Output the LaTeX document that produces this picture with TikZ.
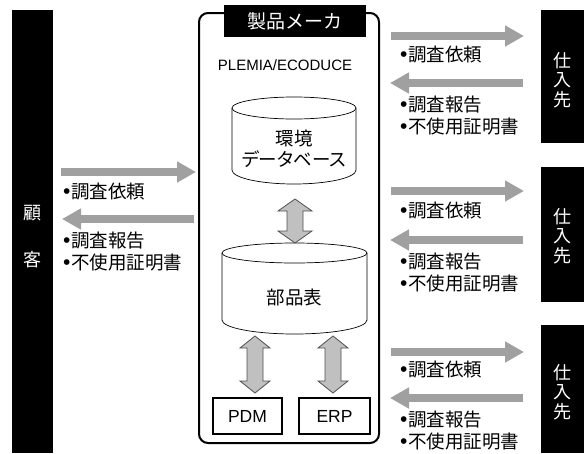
\documentclass[tikz,border=0pt]{standalone}
\usepackage{fontspec}
\setmainfont{Liberation Sans}
\newfontfamily\jp{Noto Sans CJK JP}
\newfontfamily\jpp[RawFeature=+palt]{Noto Sans CJK JP}
\usetikzlibrary{arrows.meta}
\definecolor{flowgray}{HTML}{A0A0A0}
\definecolor{dblfill}{HTML}{C0C0C0}
\definecolor{dblline}{HTML}{505050}
\newcommand\blt{{\rmfamily\fontsize{21}{22}\selectfont •}\kern0.5pt}
\newcommand\DblArrow[6]{% x, ytop, ybot, half head, half shaft, head length
  \filldraw[dblarrow] (#1,#2) -- ({#1+#4},{#2+#6}) -- ({#1+#5},{#2+#6}) -- ({#1+#5},{#3-#6})
   -- ({#1+#4},{#3-#6}) -- (#1,#3) -- ({#1-#4},{#3-#6}) -- ({#1-#5},{#3-#6})
   -- ({#1-#5},{#2+#6}) -- ({#1-#4},{#2+#6}) -- cycle;}
\begin{document}
\begin{tikzpicture}[x=1pt,y=-1pt,
  blackbox/.style={fill=black,draw=none},
  jlab/.style={font=\jp\fontsize{18.5}{22}\selectfont,inner sep=0pt,anchor=west,align=left},
  wlab/.style={font=\jp\fontsize{18}{19.5}\selectfont,text=white,inner sep=0pt,align=center},
  ctext/.style={font=\jpp\fontsize{18.5}{21}\selectfont,inner sep=0pt,align=center},
  flow/.style={draw=flowgray,line width=8.5pt,-{Triangle[length=19pt,width=20pt]}},
  dblarrow/.style={fill=dblfill,draw=dblline,line width=0.8pt,line join=miter},
  sysbox/.style={draw=black,line width=1.3pt,fill=white,minimum width=#1,minimum height=36pt,inner sep=0pt,font=\fontsize{17.5}{20}\selectfont},
  cyl/.style={draw=black,line width=0.7pt,fill=white}]
\useasboundingbox (0,0) rectangle (584,453);

% customer bar
\fill[blackbox] (12,10) rectangle (53,453);
\node[wlab] (ko) at (32.5,213) {顧};
\node[wlab] (kyaku) at (32.5,260) {客};

% supplier boxes
\fill[blackbox] (541,10) rectangle (584,143);
\node[wlab] (s1) at (562,80) {仕\\入\\先};
\fill[blackbox] (541,167) rectangle (584,302);
\node[wlab] (s2) at (562,236) {仕\\入\\先};
\fill[blackbox] (541,325) rectangle (584,453);
\node[wlab] (s3) at (562,392) {仕\\入\\先};

% main box
\draw[line width=2pt,rounded corners=9pt] (199,13) rectangle (379,443);
\node[fill=black,text=white,minimum width=142pt,minimum height=32pt,inner sep=0pt,
      font=\jp\fontsize{19}{20}\selectfont] (maker) at (295,21) {製品メーカ};
\node[font=\fontsize{15}{17}\selectfont,inner sep=0pt] (plemia) at (285,65) {PLEMIA/ECODUCE};

% cylinder 1
\draw[cyl] (232,108) -- (232,170) arc[start angle=180,end angle=0,x radius=62,y radius=14] -- (356,108);
\draw[cyl] (294,108) ellipse[x radius=62,y radius=11];
\node[ctext] (envdb) at (294,148.5) {環境\\データベース};

% cylinder 2
\draw[cyl] (222,253) -- (222,320) arc[start angle=180,end angle=0,x radius=72.5,y radius=14] -- (367,253);
\draw[cyl] (294.5,253) ellipse[x radius=72.5,y radius=10];
\node[ctext] (bom) at (294.5,297) {部品表};

% PDM / ERP
\node[sysbox=69pt] (pdm) at (247.5,416) {PDM};
\node[sysbox=71pt] (erp) at (334.5,416) {ERP};

% double arrows
\DblArrow{295}{199}{243}{17}{8}{12}
\DblArrow{255}{336}{393}{15}{8}{12}
\DblArrow{333}{336}{393}{15}{8}{12}

% customer flows
\coordinate (c1a) at (61,172);  \coordinate (c1b) at (196,172);
\coordinate (c2a) at (194,219); \coordinate (c2b) at (62,219);
\draw[flow] (c1a) -- (c1b);
\draw[flow] (c2a) -- (c2b);
\node[jlab] (cq) at (63,192) {\blt 調査依頼};
\node[jlab] (cr) at (63,252) {\blt 調査報告\\\blt 不使用証明書};

% supplier flows
\foreach \i/\ya/\yb/\yq/\yr in {1/36/83/55/116, 2/191/240/211/272.5, 3/352/398/370/430.5}{
  \coordinate (r\i a) at (391,\ya); \coordinate (r\i b) at (524,\ya);
  \coordinate (l\i a) at (523,\yb); \coordinate (l\i b) at (390,\yb);
  \draw[flow] (r\i a) -- (r\i b);
  \draw[flow] (l\i a) -- (l\i b);
  \node[jlab] (q\i) at (400,\yq) {\blt 調査依頼};
  \node[jlab] (p\i) at (400,\yr) {\blt 調査報告\\\blt 不使用証明書};
}
\end{tikzpicture}
\end{document}
